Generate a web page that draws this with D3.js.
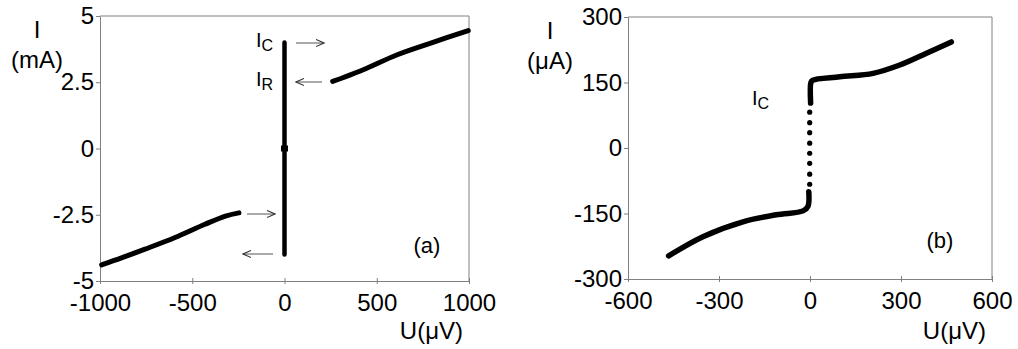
<!DOCTYPE html>
<html>
<head>
<meta charset="utf-8">
<script src="https://cdn.jsdelivr.net/npm/d3@7"></script>
<style>
  body { margin: 0; background: #fff; }
  text { font-family: "Liberation Sans", Arial, sans-serif; fill: #000; }
  .axis path, .axis line { stroke: #808080; }
  .axis text { font-size: 24px; }
</style>
</head>
<body>
<script>
// panel (a): voltage in uV, current in mA
var aTicksX = [-1000, -500, 0, 500, 1000];
var aTicksY = [-5, -2.5, 0, 2.5, 5];
var aNegU = [-991, -880, -756, -593, -431, -320, -247];
var aNegI = [-4.39, -4.12, -3.80, -3.36, -2.86, -2.55, -2.43];
var aPosU = [261, 320, 427, 608, 789, 996];
var aPosI = [2.53, 2.68, 2.97, 3.53, 3.97, 4.45];
var aJumpU = [0, 0];
var aJumpI = [-4, 4];

// panel (b): voltage in uV, current in uA
var bTicksX = [-600, -300, 0, 300, 600];
var bTicksY = [-300, -150, 0, 150, 300];
var bNegU = [-466, -353, -221, -111, -23, -7, -4];
var bNegI = [-247, -203, -169, -153, -144, -134, -100];
var bPosU = [2, 3, 8, 98, 208, 296, 384, 466];
var bPosI = [103, 150, 155, 163, 171, 190, 217, 243];
var bDotsI = [-83, -60, -35, -12, 11, 35, 58, 82];

var svg = d3.select("body").append("svg")
  .attr("width", 1018)
  .attr("height", 349);

function panel(o) {
  var x = d3.scaleLinear().domain(o.dx).range([o.x0, o.x1]);
  var y = d3.scaleLinear().domain(o.dy).range([o.y1, o.y0]);
  var g = svg.append("g");

  // frame top + right
  g.append("path")
    .attr("d", "M" + o.x0 + "," + o.y0 + "H" + o.x1 + "V" + o.y1)
    .attr("fill", "none").attr("stroke", "#808080");

  var xa = g.append("g").attr("class", "axis")
    .attr("transform", "translate(0," + o.y1 + ")")
    .call(d3.axisBottom(x).tickValues(o.tx).tickSizeInner(3).tickSizeOuter(0).tickPadding(10).tickFormat(d => String(d)));
  xa.selectAll(".tick line").attr("y1", -3);
  xa.selectAll(".tick text").attr("dy", "0.71em");

  g.append("g").attr("class", "axis")
    .attr("transform", "translate(" + o.x0 + ",0)")
    .call(d3.axisLeft(y).tickValues(o.ty).tickSizeInner(4).tickSizeOuter(0).tickPadding(2).tickFormat(d => String(d)));

  var line = d3.line().x(d => x(d[0])).y(d => y(d[1])).curve(d3.curveCatmullRom);
  o.series.forEach(function (s) {
    g.append("path")
      .datum(d3.zip(s[0], s[1]))
      .attr("d", line)
      .attr("fill", "none")
      .attr("stroke", "#000")
      .attr("stroke-width", s[2])
      .attr("stroke-linecap", "round");
  });

  // axis titles
  g.append("text").attr("x", o.lx).attr("y", o.y0 + 22)
    .attr("text-anchor", "middle").attr("font-size", 24).text("I");
  g.append("text").attr("x", o.lx).attr("y", o.y0 + 52)
    .attr("text-anchor", "middle").attr("font-size", 24).text(o.unit);
  g.append("text").attr("x", o.x1 - 6).attr("y", 339)
    .attr("text-anchor", "end").attr("font-size", 24).text("U(\u03bcV)");
  g.append("text").attr("x", o.tagX).attr("y", o.tagY)
    .attr("text-anchor", "middle").attr("font-size", 22).text(o.tag);
  return { x: x, y: y, g: g };
}

var a = panel({
  x0: 100, x1: 469, y0: 16, y1: 281,
  dx: [-1000, 1000], dy: [-5, 5], tx: aTicksX, ty: aTicksY,
  lx: 37, unit: "(mA)", tag: "(a)", tagX: 427, tagY: 253,
  series: [[aNegU, aNegI, 5], [aPosU, aPosI, 5], [aJumpU, aJumpI, 4.5]]
});
a.g.append("rect")
  .attr("x", a.x(0) - 3.5).attr("y", a.y(0) - 3)
  .attr("width", 7).attr("height", 6);

var b = panel({
  x0: 628, x1: 992, y0: 17, y1: 279,
  dx: [-600, 600], dy: [-300, 300], tx: bTicksX, ty: bTicksY,
  lx: 550, unit: "(\u03bcA)", tag: "(b)", tagX: 940, tagY: 248,
  series: [[bNegU, bNegI, 5.5], [bPosU, bPosI, 5.5]]
});
b.g.selectAll("circle")
  .data(bDotsI)
  .enter().append("circle")
    .attr("cx", b.x(-1))
    .attr("cy", d => b.y(d))
    .attr("r", 2.6);

// arrows in panel (a)
var defs = svg.append("defs");
defs.append("marker").attr("id", "ah")
  .attr("viewBox", "0 0 10 10").attr("refX", 9).attr("refY", 5)
  .attr("markerWidth", 9).attr("markerHeight", 9)
  .attr("markerUnits", "userSpaceOnUse").attr("orient", "auto")
  .append("path").attr("d", "M0,1L9,5L0,9").attr("fill", "none").attr("stroke", "#333").attr("stroke-width", 1.2);

var arrows = [[296, 324, 43], [322, 296, 82], [247, 275, 214], [273, 243, 254]];
svg.selectAll("line.arr")
  .data(arrows)
  .enter().append("line")
    .attr("class", "arr")
    .attr("x1", d => d[0]).attr("x2", d => d[1])
    .attr("y1", d => d[2]).attr("y2", d => d[2])
    .attr("stroke", "#555").attr("stroke-width", 1)
    .attr("marker-end", "url(#ah)");

// I_C, I_R labels
function sub(x, y, s) {
  var t = svg.append("text").attr("x", x).attr("y", y).attr("font-size", 20);
  t.append("tspan").text("I");
  t.append("tspan").attr("dy", 4).attr("font-size", 16).text(s);
}
sub(256, 47, "C");
sub(256, 86, "R");
sub(752, 105, "C");
</script>
</body>
</html>
